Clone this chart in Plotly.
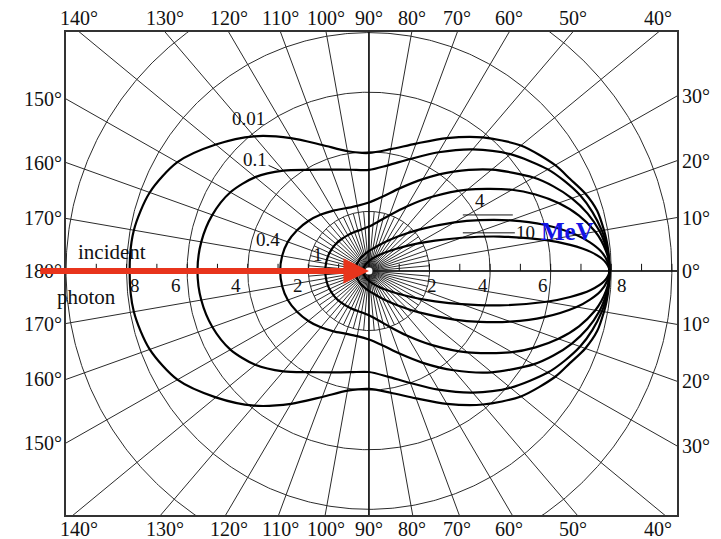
import numpy as np
import plotly.graph_objects as go

# ---------------- data ----------------
ANGLES = [0, 2.5, 5, 7.5, 10, 15, 20, 25, 30, 40, 50, 60, 70, 80, 90,
          100, 110, 120, 130, 140, 150, 160, 170, 180]

R_0_01 = [7.94, 7.94, 7.93, 7.91, 7.88, 7.80, 7.60, 7.32, 7.10, 6.55, 5.85, 5.15, 4.55, 4.15, 3.96,
          4.08, 4.50, 5.15, 5.90, 6.60, 7.30, 7.70, 7.88, 7.90]
R_0_1 = [7.94, 7.93, 7.91, 7.87, 7.81, 7.64, 7.42, 7.13, 6.82, 6.10, 5.33, 4.60, 4.00, 3.60, 3.39,
         3.45, 3.62, 3.92, 4.40, 4.90, 5.28, 5.50, 5.62, 5.66]
R_0_4 = [7.94, 7.93, 7.89, 7.82, 7.73, 7.47, 7.13, 6.72, 6.27, 5.29, 4.35, 3.56, 2.95, 2.53, 2.30,
         2.22, 2.24, 2.34, 2.47, 2.61, 2.74, 2.85, 2.91, 2.93]
R_1 = [7.94, 7.93, 7.85, 7.74, 7.59, 7.18, 6.66, 6.07, 5.45, 4.25, 3.25, 2.50, 1.99, 1.67, 1.49,
       1.41, 1.39, 1.39, 1.40, 1.42, 1.43, 1.44, 1.44, 1.44]
R_4 = [7.94, 7.87, 7.68, 7.36, 6.96, 5.99, 4.97, 4.04, 3.26, 2.16, 1.52, 1.14, 0.91, 0.76, 0.67,
       0.60, 0.55, 0.52, 0.49, 0.47, 0.46, 0.45, 0.45, 0.45]
R_10 = [7.94, 7.78, 7.35, 6.70, 5.95, 4.46, 3.26, 2.41, 1.83, 1.15, 0.80, 0.60, 0.47, 0.39, 0.33,
        0.29, 0.26, 0.24, 0.22, 0.21, 0.20, 0.19, 0.19, 0.19]

CURVES = [R_0_01, R_0_1, R_0_4, R_1, R_4, R_10]

CIRCLE_RADII = [2, 4, 6, 8, 10]
SPOKE_ANGLES = list(range(0, 360, 10))
FINE_SPOKE_ANGLES = list(range(5, 360, 10))
AXIS_TICKS = [v for v in range(-9, 11) if v != 0]

TOP_ANGLES = [140, 130, 120, 110, 100, 90, 80, 70, 60, 50, 40]
RIGHT_ANGLES = [30, 20, 10, 0, -10, -20, -30]
LEFT_ANGLES = [150, 160, 170, 180, 190, 200, 210]

RIGHT_NUM_LABELS = ["2", "4", "6", "8"]
RIGHT_NUM_POS = [2.07, 3.77, 5.74, 8.35]
LEFT_NUM_LABELS = ["8", "6", "4", "2"]
LEFT_NUM_POS = [-7.72, -6.37, -4.39, -2.34]

X_RANGE = [-10.0, 10.17]
Y_RANGE = [-8.19, 8.02]

FONT = "Liberation Serif, Times New Roman, serif"
GRID = "#2b2b2b"

fig = go.Figure()

# ---------------- polar grid ----------------
t = np.linspace(0, 2 * np.pi, 721)
cx, cy = [], []
for r in CIRCLE_RADII:
    cx += list(r * np.cos(t)) + [None]
    cy += list(r * np.sin(t)) + [None]
fig.add_trace(go.Scatter(x=cx, y=cy, mode="lines", line=dict(color=GRID, width=1),
                         hoverinfo="skip", showlegend=False))

sx, sy = [], []
for a in SPOKE_ANGLES:
    th = np.radians(a)
    sx += [0.12 * np.cos(th), 20 * np.cos(th), None]
    sy += [0.12 * np.sin(th), 20 * np.sin(th), None]
for a in FINE_SPOKE_ANGLES:
    th = np.radians(a)
    sx += [0.12 * np.cos(th), 2.0 * np.cos(th), None]
    sy += [0.12 * np.sin(th), 2.0 * np.sin(th), None]
fig.add_trace(go.Scatter(x=sx, y=sy, mode="lines", line=dict(color=GRID, width=1),
                         hoverinfo="skip", showlegend=False))

# main axes (slightly heavier)
fig.add_trace(go.Scatter(x=[-20, 20, None, 0, 0], y=[0, 0, None, -20, 20], mode="lines",
                         line=dict(color="#111", width=1.5), hoverinfo="skip", showlegend=False))

# small ticks on horizontal axis
tx, ty = [], []
for v in AXIS_TICKS:
    tx += [v, v, None]
    ty += [0, 0.24, None]
fig.add_trace(go.Scatter(x=tx, y=ty, mode="lines", line=dict(color="#111", width=1),
                         hoverinfo="skip", showlegend=False))

# ---------------- Klein-Nishina curves ----------------
full_ang = ANGLES + [360 - a for a in reversed(ANGLES[:-1])]
for R in CURVES:
    full_r = R + list(reversed(R[:-1]))
    th = np.radians(full_ang)
    rr = np.array(full_r)
    fig.add_trace(go.Scatter(x=rr * np.cos(th), y=rr * np.sin(th), mode="lines",
                             line=dict(color="#000", width=2.2, shape="spline", smoothing=0.8),
                             hoverinfo="skip", showlegend=False))

# white hub at centre
fig.add_trace(go.Scatter(x=[0], y=[0], mode="markers",
                         marker=dict(color="white", size=7, line=dict(width=0)),
                         hoverinfo="skip", showlegend=False))

ann = []
# ---------------- edge angle labels ----------------
ytop, ybot = Y_RANGE[1], Y_RANGE[0]
xl, xr = X_RANGE
for a in TOP_ANGLES:
    x = ytop / np.tan(np.radians(a)) if a != 90 else 0
    ann.append(dict(x=x, y=ytop, text=f"{a}°", showarrow=False, yanchor="bottom", yshift=1,
                    font=dict(size=20, family=FONT, color="#111")))
    ann.append(dict(x=x, y=ybot, text=f"{a}°", showarrow=False, yanchor="top", yshift=-1,
                    font=dict(size=20, family=FONT, color="#111")))
for a in RIGHT_ANGLES:
    y = xr * np.tan(np.radians(a))
    ann.append(dict(x=xr, y=y, text=f"{abs(a)}°", showarrow=False, xanchor="left", xshift=3,
                    font=dict(size=20, family=FONT, color="#111")))
for a in LEFT_ANGLES:
    y = xl * np.tan(np.radians(a))
    lab = a if a <= 180 else 360 - a
    ann.append(dict(x=xl, y=y, text=f"{lab}°", showarrow=False, xanchor="right", xshift=-2,
                    font=dict(size=20, family=FONT, color="#111")))

# radial scale numbers
for txt, pos in zip(RIGHT_NUM_LABELS + LEFT_NUM_LABELS, RIGHT_NUM_POS + LEFT_NUM_POS):
    ann.append(dict(x=pos, y=-0.5, text=txt, showarrow=False,
                    font=dict(size=19, family=FONT, color="#111")))

# curve labels
lab_font = dict(size=19, family=FONT, color="#111")
ann.append(dict(x=-3.99, y=5.13, text="0.01", showarrow=False, font=lab_font))
ann.append(dict(x=-2.90, y=3.35, text="0.1", showarrow=True, arrowhead=0, arrowwidth=1,
                arrowcolor="#111", ax=-26, ay=-12, font=lab_font))
ann.append(dict(x=-3.33, y=1.04, text="0.4", showarrow=False, font=lab_font))
ann.append(dict(x=-1.68, y=0.55, text="1", showarrow=False, font=lab_font))
ann.append(dict(x=3.66, y=2.38, text="4", showarrow=False, font=lab_font))
ann.append(dict(x=3.10, y=1.28, text="10", showarrow=True, arrowhead=0, arrowwidth=1,
                arrowcolor="#111", ax=63, ay=0, font=lab_font))
ann.append(dict(x=6.55, y=1.31, text="<b>MeV</b>", showarrow=False,
                font=dict(size=25, family=FONT, color="#1414e6")))
ann.append(dict(x=-8.48, y=0.62, text="incident", showarrow=False,
                font=dict(size=21, family=FONT, color="#111")))
ann.append(dict(x=-9.31, y=-0.87, text="photon", showarrow=False,
                font=dict(size=21, family=FONT, color="#111")))

# incident photon arrow
ann.append(dict(x=0.0, y=0.0, ax=-10.9, ay=0.0, axref="x", ayref="y", text="",
                showarrow=True, arrowhead=2, arrowsize=0.85, arrowwidth=6,
                arrowcolor="#e8341c", standoff=0))

fig.add_shape(type="line", x0=3.10, y0=1.88, x1=4.75, y1=1.88, line=dict(color="#111", width=1))

# page body has an 8px margin: size the figure so the frame lands where the reference has it
fig.update_layout(
    width=713, height=531,
    margin=dict(l=58, r=44, t=24, b=24),
    paper_bgcolor="white", plot_bgcolor="white",
    showlegend=False,
    annotations=ann,
    xaxis=dict(range=X_RANGE, showgrid=False, zeroline=False, showticklabels=False, ticks="",
               showline=True, mirror=True, linecolor="#333", linewidth=1.5, fixedrange=True),
    yaxis=dict(range=Y_RANGE, showgrid=False, zeroline=False, showticklabels=False, ticks="",
               showline=True, mirror=True, linecolor="#333", linewidth=1.5, fixedrange=True),
)

fig.write_html("out.html")
